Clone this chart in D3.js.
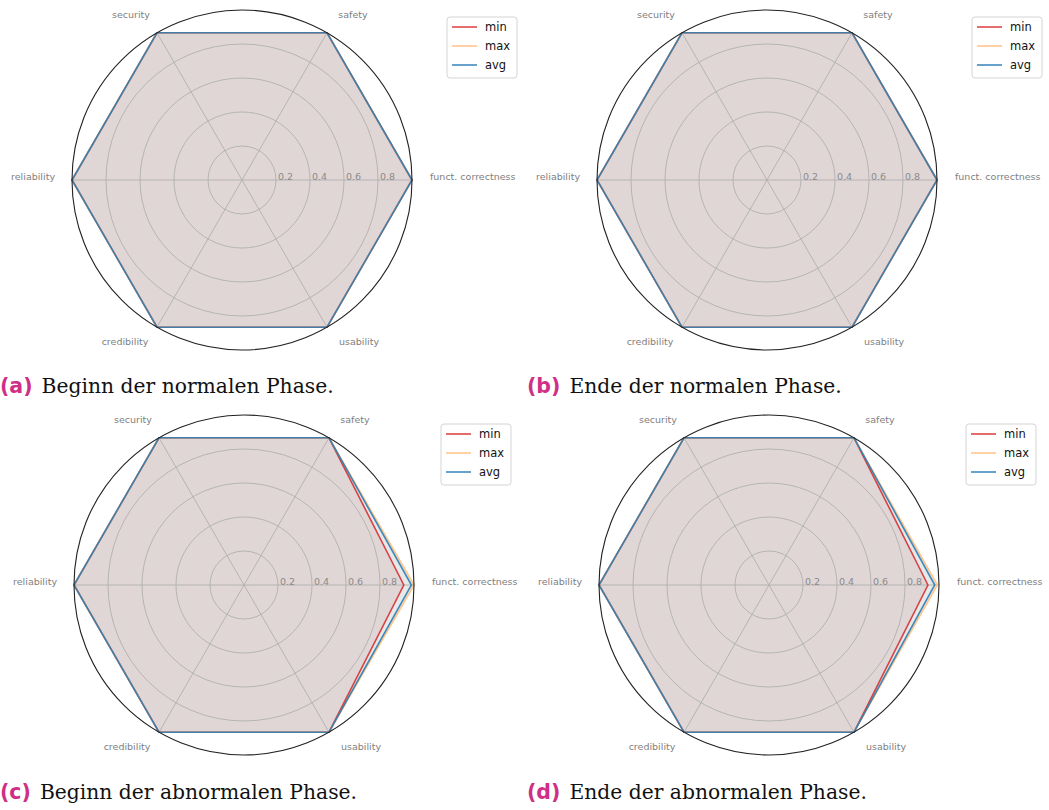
<!DOCTYPE html>
<html>
<head>
<meta charset="utf-8">
<script src="https://cdn.jsdelivr.net/npm/d3@7"></script>
<style>
  html, body { margin: 0; padding: 0; background: #fff; }
  svg { display: block; }
</style>
</head>
<body>
<svg id="chart" width="1049" height="810"></svg>
<script>
// Quality dimensions, counter-clockwise starting at the right
const dimensions = ["funct. correctness", "safety", "security", "reliability", "credibility", "usability"];
const seriesNames = ["min", "max", "avg"];
const radialTicks = [0.2, 0.4, 0.6, 0.8];
const radialTickLabels = ["0.2", "0.4", "0.6", "0.8"];

// (a) start of the normal phase
const minA = [1, 1, 1, 1, 1, 1];
const maxA = [1, 1, 1, 1, 1, 1];
const avgA = [1, 1, 1, 1, 1, 1];
// (b) end of the normal phase
const minB = [1, 1, 1, 1, 1, 1];
const maxB = [1, 1, 1, 1, 1, 1];
const avgB = [1, 1, 1, 1, 1, 1];
// (c) start of the abnormal phase
const minC = [0.94, 1, 1, 1, 1, 1];
const maxC = [1.0, 1, 1, 1, 1, 1];
const avgC = [0.985, 1, 1, 1, 1, 1];
// (d) end of the abnormal phase
const minD = [0.935, 1, 1, 1, 1, 1];
const maxD = [0.99, 1, 1, 1, 1, 1];
const avgD = [0.975, 1, 1, 1, 1, 1];

const captionTags = ["(a)", "(b)", "(c)", "(d)"];
const captionTexts = [
  "Beginn der normalen Phase.",
  "Ende der normalen Phase.",
  "Beginn der abnormalen Phase.",
  "Ende der abnormalen Phase."
];

const seriesColors = { min: "#d62728", max: "#ffbb78", avg: "#1f77b4" };

const panels = [
  { cx: 242, cy: 180, capX: 0,   capY: 393, legX: 447, legY: 17,  values: { min: minA, max: maxA, avg: avgA } },
  { cx: 767, cy: 180, capX: 527, capY: 393, legX: 972, legY: 17,  values: { min: minB, max: maxB, avg: avgB } },
  { cx: 244, cy: 585, capX: 0,   capY: 799, legX: 441, legY: 424, values: { min: minC, max: maxC, avg: avgC } },
  { cx: 769, cy: 585, capX: 527, capY: 799, legX: 966, legY: 424, values: { min: minD, max: maxD, avg: avgD } }
];

const R = 170;
const svg = d3.select("#chart");
const r = d3.scaleLinear().domain([0, 1]).range([0, R]);
// angle in the usual math sense (counter-clockwise from east)
const theta = d3.scaleLinear().domain([0, dimensions.length]).range([0, 2 * Math.PI]);
// d3.lineRadial measures clockwise from north
const toD3Angle = a => Math.PI / 2 - a;

const radarLine = d3.lineRadial()
  .angle((d, i) => toD3Angle(theta(i)))
  .radius(d => r(d))
  .curve(d3.curveLinearClosed);

panels.forEach((p, pi) => {
  const g = svg.append("g").attr("transform", `translate(${p.cx},${p.cy})`);

  // series fills first, translucent
  seriesNames.forEach(s => {
    g.append("path")
      .attr("d", radarLine(p.values[s]))
      .attr("fill", seriesColors[s])
      .attr("fill-opacity", 0.11)
      .attr("stroke", "none");
  });

  // radial grid
  g.selectAll("circle.grid").data(radialTicks).enter().append("circle")
    .attr("class", "grid")
    .attr("r", d => r(d))
    .attr("fill", "none")
    .attr("stroke", "#b0b0b0")
    .attr("stroke-width", 0.9);

  // spokes
  g.selectAll("line.spoke").data(dimensions).enter().append("line")
    .attr("class", "spoke")
    .attr("x1", 0).attr("y1", 0)
    .attr("x2", (d, i) => Math.cos(theta(i)) * r(1))
    .attr("y2", (d, i) => -Math.sin(theta(i)) * r(1))
    .attr("stroke", "#b0b0b0")
    .attr("stroke-width", 0.9);

  // series outlines
  seriesNames.forEach(s => {
    g.append("path")
      .attr("d", radarLine(p.values[s]))
      .attr("fill", "none")
      .attr("stroke", seriesColors[s])
      .attr("stroke-opacity", 0.85)
      .attr("stroke-width", 1.6)
      .attr("stroke-linejoin", "miter");
  });

  // outer frame
  g.append("circle")
    .attr("r", r(1))
    .attr("fill", "none")
    .attr("stroke", "#222")
    .attr("stroke-width", 1.1);

  // radial tick labels along the east spoke
  g.selectAll("text.rtick").data(radialTicks).enter().append("text")
    .attr("class", "rtick")
    .attr("x", d => r(d) + 2)
    .attr("y", 0)
    .attr("font-family", "DejaVu Sans, sans-serif")
    .attr("font-size", 9.5)
    .attr("fill", "#8a8a8a")
    .text((d, i) => radialTickLabels[i]);

  // dimension labels
  g.selectAll("text.dim").data(dimensions).enter().append("text")
    .attr("class", "dim")
    .each(function(d, i) {
      const a = theta(i);
      const c = Math.cos(a), sn = Math.sin(a);
      const t = d3.select(this);
      if (Math.abs(sn) < 1e-6) {
        t.attr("x", c > 0 ? r(1) + 18 : -(r(1) + 17))
         .attr("y", -3)
         .attr("text-anchor", c > 0 ? "start" : "end");
      } else if (sn > 0) {
        t.attr("x", c * 222)
         .attr("y", -sn * 190 - 1)
         .attr("text-anchor", "middle");
      } else {
        t.attr("x", c * 234)
         .attr("y", -sn * 187)
         .attr("text-anchor", "middle");
      }
    })
    .attr("dy", "0.35em")
    .attr("font-family", "DejaVu Sans, sans-serif")
    .attr("font-size", 9.5)
    .attr("fill", "#808080")
    .text(d => d);

  // legend
  const leg = svg.append("g").attr("transform", `translate(${p.legX},${p.legY})`);
  leg.append("rect")
    .attr("x", 0).attr("y", 0)
    .attr("width", 70).attr("height", 61)
    .attr("rx", 3)
    .attr("fill", "#fff")
    .attr("fill-opacity", 0.85)
    .attr("stroke", "#d4d4d4")
    .attr("stroke-width", 1);
  seriesNames.forEach((s, i) => {
    const y = 10 + i * 19;
    leg.append("line")
      .attr("x1", 5).attr("x2", 30)
      .attr("y1", y).attr("y2", y)
      .attr("stroke", seriesColors[s])
      .attr("stroke-opacity", 0.85)
      .attr("stroke-width", 1.6);
    leg.append("text")
      .attr("x", 38).attr("y", y)
      .attr("dy", "0.35em")
      .attr("font-family", "DejaVu Sans, sans-serif")
      .attr("font-size", 11.5)
      .attr("fill", "#111")
      .text(s);
  });

  // caption
  const cap = svg.append("text")
    .attr("x", p.capX).attr("y", p.capY);
  cap.append("tspan")
    .attr("font-family", "DejaVu Sans, sans-serif")
    .attr("font-weight", "bold")
    .attr("font-size", 20.5)
    .attr("fill", "#cf2f86")
    .text(captionTags[pi]);
  cap.append("tspan")
    .attr("dx", 9)
    .attr("font-family", "DejaVu Serif, serif")
    .attr("font-size", 20.3)
    .attr("fill", "#111")
    .text(captionTexts[pi]);
});
</script>
</body>
</html>
